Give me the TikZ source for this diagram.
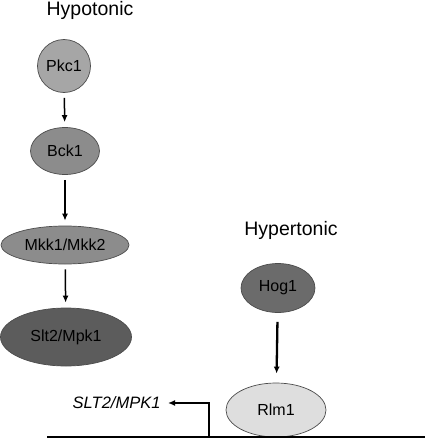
\documentclass[tikz,border=0pt]{standalone}
\usepackage{fontspec}
\setmainfont{Liberation Sans}
\usetikzlibrary{shapes.geometric,arrows.meta}
\tikzset{
  >={Latex[length=7pt,width=6pt]},
  prot/.style={ellipse, draw=black!70, line width=0.7pt, inner sep=0pt,
    font=\fontsize{16}{19}\selectfont},
  title/.style={font=\fontsize{19.5}{23}\selectfont},
  step arrow/.style={->, line width=1.5pt, shorten <=5pt, shorten >=5pt}
}
\begin{document}
\begin{tikzpicture}[x=1pt, y=-1pt]
    \useasboundingbox (0,0) rectangle (425,439);
    % Hypotonic branch
    \node[title] (hypo) at (90,10) {Hypotonic};
    \node[prot, circle, fill=black!35, minimum size=53pt] (pkc) at (64,66) {Pkc1};
    \node[prot, fill=black!45, minimum width=69pt, minimum height=47pt] (bck) at (65,151) {Bck1};
    \node[prot, fill=black!45, minimum width=128pt, minimum height=38pt] (mkk) at (65,245) {Mkk1/Mkk2};
    \node[prot, fill=black!64, minimum width=131pt, minimum height=58pt] (slt) at (66,337) {Slt2/Mpk1};
    \draw[step arrow] (pkc) -- (bck);
    \draw[step arrow] (bck) -- (mkk);
    \draw[step arrow] (mkk) -- (slt);
    % Hypertonic branch
    \node[title] (hyper) at (291,230) {Hypertonic};
    \node[prot, fill=black!58, minimum width=74pt, minimum height=49pt] (hog) at (278,288) {Hog1};
    \node[prot, fill=black!13, minimum width=100pt, minimum height=54pt] (rlm) at (276,410) {Rlm1};
    \draw[->, line width=2.3pt, shorten <=9pt, shorten >=9pt] (hog) -- (rlm);
    % DNA and gene
    \coordinate (dnaL) at (47,437);
    \coordinate (dnaR) at (425,437);
    \coordinate (prom) at (209,437);
    \draw[line width=2.8pt] (dnaL) -- (dnaR);
    \node[font=\fontsize{16.5}{20}\selectfont\itshape, anchor=east] (gene) at (164,403) {SLT2/MPK1};
    \draw[->, line width=2.3pt, shorten >=4pt] (prom) |- (gene.east);
\end{tikzpicture}
\end{document}
